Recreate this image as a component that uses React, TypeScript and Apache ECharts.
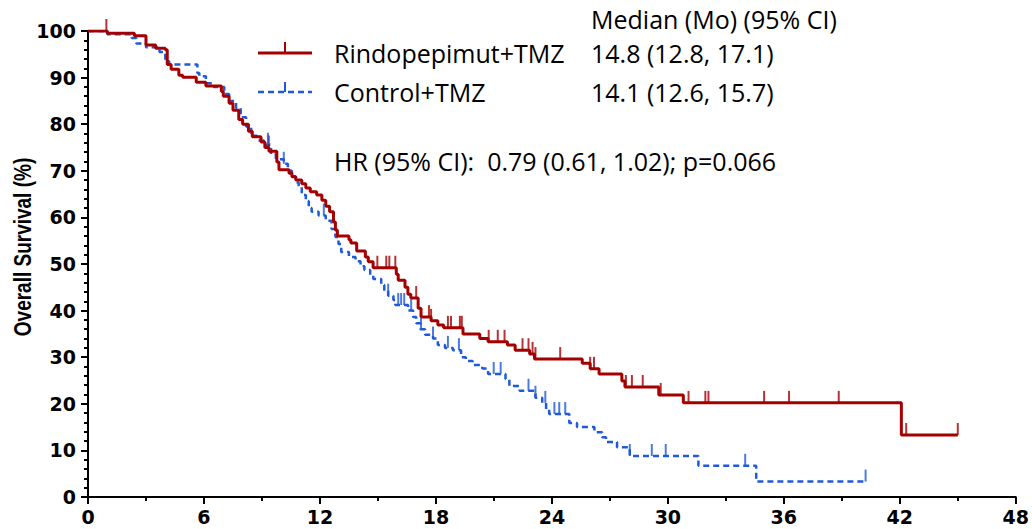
import React, { useEffect, useRef } from "react";
import * as echarts from "echarts";

// Kaplan-Meier events: [month, survival % after event]
const rindoEvents: [number, number][] = [
  [1.0, 99.5], [2.4, 99.0], [3.0, 97.0], [3.5, 96.3], [4.0, 96.0], [4.1, 92.8], [4.3, 91.8], [4.7, 90.5],
  [4.9, 90.1], [5.6, 89.0], [6.1, 88.2], [6.9, 87.0], [7.0, 86.0], [7.3, 84.5], [7.5, 83.0], [7.8, 81.0],
  [8.0, 80.0], [8.3, 78.5], [8.5, 77.3], [8.95, 76.2], [9.15, 75.0], [9.36, 74.2], [9.77, 71.9], [9.88, 70.2],
  [10.4, 69.5], [10.55, 68.7], [10.75, 68.0], [11.06, 67.2], [11.27, 66.3], [11.5, 65.5], [11.83, 64.8],
  [12.1, 63.7], [12.3, 62.4], [12.5, 61.2], [12.7, 59.0], [12.8, 57.3], [12.9, 56.0], [13.5, 55.2],
  [13.6, 54.5], [13.9, 52.8], [14.35, 51.5], [14.5, 50.5], [14.75, 49.2], [15.95, 47.8], [16.05, 46.5],
  [16.4, 45.0], [16.55, 43.5], [16.7, 42.7], [17.08, 40.5], [17.23, 38.6], [17.75, 37.8], [18.1, 36.9],
  [18.4, 36.3], [19.4, 35.0], [20.27, 34.0], [20.7, 33.3], [21.7, 32.6], [22.1, 31.5], [22.85, 30.7],
  [23.1, 29.6], [25.57, 28.7], [25.98, 27.5], [26.44, 26.4], [27.62, 24.9], [27.78, 23.6], [29.53, 21.9],
  [30.8, 20.2], [42.08, 13.3],
];
const rindoCensor: number[] = [
  0.95, 9.35, 14.97, 15.43, 15.59, 15.9, 16.98, 17.64, 17.75, 18.62, 18.78, 19.24, 19.34, 20.73, 21.2,
  21.55, 22.48, 22.79, 23.0, 23.15, 24.43, 25.98, 26.18, 27.83, 28.14, 28.7, 29.63, 31.07, 31.94, 32.1,
  34.98, 36.27, 38.84, 42.33, 45.0,
];

const controlEvents: [number, number][] = [
  [1.0, 99.3], [2.26, 98.5], [2.5, 97.3], [3.0, 96.5], [3.7, 95.5], [4.0, 93.5], [4.2, 92.8], [5.66, 91.0],
  [5.76, 90.3], [6.1, 88.8], [6.5, 88.0], [7.05, 86.5], [7.3, 85.0], [7.66, 83.5], [7.9, 81.5], [8.18, 79.5],
  [8.44, 77.5], [8.74, 76.5], [9.1, 75.6], [9.47, 73.5], [9.72, 72.5], [10.13, 71.5], [10.34, 70.0],
  [10.55, 68.8], [10.75, 67.5], [10.9, 66.5], [11.06, 64.8], [11.27, 63.5], [11.42, 62.0], [11.57, 61.2],
  [11.93, 60.4], [12.3, 59.3], [12.6, 57.5], [12.8, 55.8], [12.96, 54.3], [13.1, 52.6], [13.5, 51.5],
  [13.84, 50.6], [14.1, 49.5], [14.3, 48.7], [14.6, 47.6], [14.76, 46.8], [15.17, 45.5], [15.33, 44.2],
  [15.53, 43.2], [15.8, 42.3], [15.9, 41.2], [16.56, 40.0], [16.82, 38.6], [16.98, 37.3], [17.2, 36.0],
  [17.44, 34.8], [17.85, 34.0], [18.1, 32.6], [18.47, 32.0], [18.88, 31.5], [19.3, 30.0], [19.55, 29.2],
  [19.9, 28.3], [20.4, 27.6], [20.7, 26.4], [21.6, 25.3], [21.8, 23.8], [22.33, 22.8], [23.15, 21.3],
  [23.5, 20.2], [23.7, 18.9], [23.86, 17.8], [24.9, 15.9], [25.3, 15.0], [26.2, 13.9], [26.6, 12.8],
  [26.8, 11.8], [27.37, 10.7], [28.03, 8.8], [31.58, 6.7], [34.57, 3.3],
];
const controlCensor: number[] = [
  9.31, 10.13, 12.2, 15.53, 16.05, 16.2, 16.36, 16.72, 17.23, 17.85, 18.62, 19.19, 20.99, 21.35,
  22.79, 23.15, 23.66, 24.13, 24.38, 24.69, 28.03, 29.17, 29.89, 34.0, 40.23,
];

const xTicks = [0, 6, 12, 18, 24, 30, 36, 42, 48];
const seriesNames = ["Rindopepimut+TMZ", "Control+TMZ"];
const medianHeader = "Median (Mo) (95% CI)";
const medians = ["14.8 (12.8, 17.1)", "14.1 (12.6, 15.7)"];
const hrText = "HR (95% CI):  0.79 (0.61, 1.02); p=0.066";
const yTitle = "Overall Survival (%)";

const RED = "#a50000";
const BLUE = "#1f5ad8";

function survivalAt(events: [number, number][], t: number): number {
  let s = 100;
  for (const [et, ev] of events) {
    if (et <= t) s = ev;
  }
  return s;
}

function curve(events: [number, number][], censor: number[]): [number, number][] {
  const last = Math.max(...censor);
  const pts: [number, number][] = [[0, 100], ...events];
  pts.push([last, survivalAt(events, last)]);
  return pts;
}

export default function App() {
  const ref = useRef<HTMLDivElement>(null);
  useEffect(() => {
    if (!ref.current) return;
    const chart = echarts.init(ref.current, null, { renderer: "svg" });
    const axisFont = { fontFamily: "DejaVu Sans, sans-serif", fontWeight: "bold" as const, fontSize: 19, color: "#000" };
    const annFont = "Open Sans, sans-serif";
    const tickSymbol = { symbol: "rect", symbolSize: [2, 12], symbolOffset: [0, -6] };
    const ann = (x: number, y: number, text: string) => ({
      type: "text",
      x,
      y,
      style: { text, font: `25px ${annFont}`, lineHeight: 26, fill: "#000", textAlign: "left", textVerticalAlign: "middle" },
    });
    chart.setOption({
      animation: false,
      grid: { left: 88, right: 10, top: 31, bottom: 32, containLabel: false },
      xAxis: {
        type: "value",
        min: 0,
        max: 48,
        interval: 6,
        axisLine: { show: true, onZero: false, lineStyle: { color: "#000", width: 2 } },
        axisTick: { show: true, length: 7, lineStyle: { color: "#000", width: 2 } },
        minorTick: { show: true, splitNumber: 2, length: 4, lineStyle: { color: "#000", width: 2 } },
        splitLine: { show: false },
        axisLabel: { ...axisFont, margin: 10, formatter: (v: number) => (xTicks.includes(v) ? String(v) : "") },
      },
      yAxis: {
        type: "value",
        min: 0,
        max: 100,
        interval: 10,
        axisLine: { show: true, onZero: false, lineStyle: { color: "#000", width: 2 } },
        axisTick: { show: true, length: 7, lineStyle: { color: "#000", width: 2 } },
        minorTick: { show: true, splitNumber: 5, length: 4, lineStyle: { color: "#000", width: 2 } },
        splitLine: { show: false },
        axisLabel: { ...axisFont, margin: 12 },
      },
      series: [
        {
          name: seriesNames[0],
          type: "line",
          step: "end",
          data: curve(rindoEvents, rindoCensor),
          showSymbol: false,
          lineStyle: { color: RED, width: 3 },
          z: 3,
        },
        {
          name: seriesNames[1],
          type: "line",
          step: "end",
          data: curve(controlEvents, controlCensor),
          showSymbol: false,
          lineStyle: { color: BLUE, width: 2.5, type: [6, 4] },
          z: 2,
        },
        {
          name: seriesNames[0] + " censored",
          type: "scatter",
          data: rindoCensor.map((t) => [t, survivalAt(rindoEvents, t)]),
          ...tickSymbol,
          itemStyle: { color: RED },
          clip: false,
          z: 4,
        },
        {
          name: seriesNames[1] + " censored",
          type: "scatter",
          data: controlCensor.map((t) => [t, survivalAt(controlEvents, t)]),
          ...tickSymbol,
          itemStyle: { color: BLUE },
          clip: false,
          z: 4,
        },
      ],
      graphic: [
        {
          type: "text",
          x: 23,
          y: 247,
          rotation: Math.PI / 2,
          scaleY: 1.25,
          style: { text: yTitle, font: "bold 19px Liberation Sans, Arial, sans-serif", fill: "#000", textAlign: "center", textVerticalAlign: "middle" },
        },
        { type: "line", shape: { x1: 258, y1: 53, x2: 312, y2: 53 }, style: { stroke: RED, lineWidth: 3 } },
        { type: "line", shape: { x1: 285, y1: 53, x2: 285, y2: 42 }, style: { stroke: RED, lineWidth: 2 } },
        { type: "line", shape: { x1: 258, y1: 92, x2: 312, y2: 92 }, style: { stroke: BLUE, lineWidth: 2.5, lineDash: [6, 4] } },
        { type: "line", shape: { x1: 285, y1: 92, x2: 285, y2: 82 }, style: { stroke: BLUE, lineWidth: 2 } },
        ann(591, 19, medianHeader),
        ann(334, 53, seriesNames[0]),
        ann(591, 53, medians[0]),
        ann(334, 92, seriesNames[1]),
        ann(591, 92, medians[1]),
        ann(334, 161, hrText),
      ],
    });
    return () => chart.dispose();
  }, []);
  return <div ref={ref} style={{ position: "fixed", left: 0, top: 0, width: 1032, height: 529, background: "#fff" }} />;
}
